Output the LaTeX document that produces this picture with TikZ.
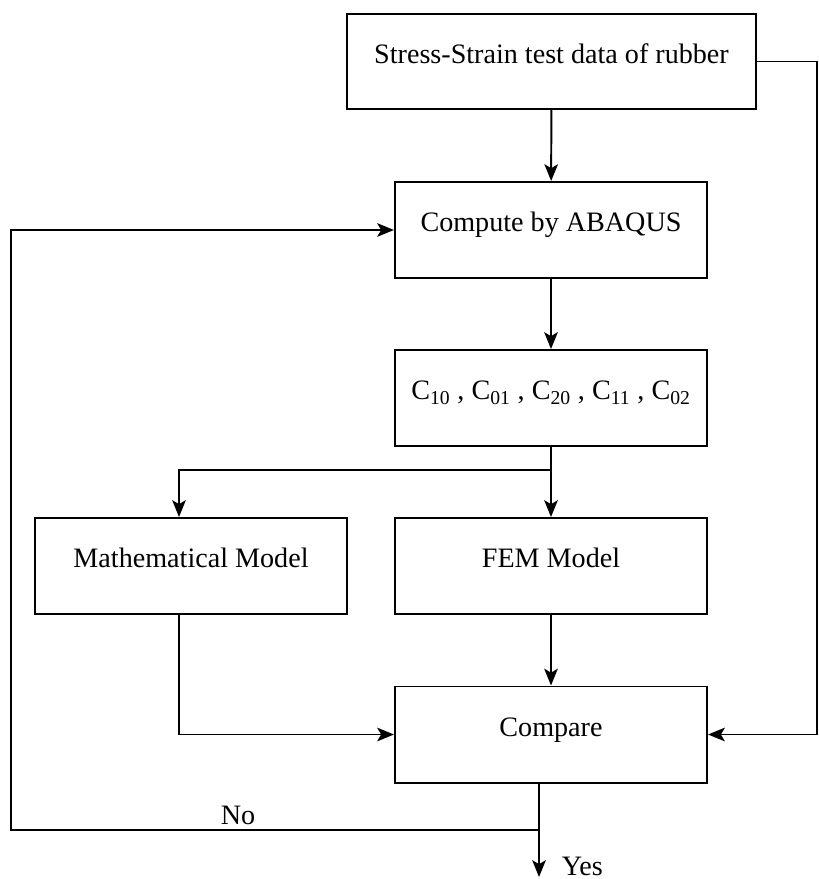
\documentclass[tikz,border=0pt]{standalone}
\usepackage{fontspec}
\setmainfont{Liberation Serif}
\usetikzlibrary{arrows.meta}

\begin{document}
\begin{tikzpicture}[
    x=0.025cm, y=-0.025cm,
    box/.style={rectangle, draw, line width=1.4pt, minimum width=7.8cm, minimum height=2.4cm,
        align=center, text height=0.75em, text depth=0.5em, font=\fontsize{20}{24}\selectfont},
    arrow/.style={-{Stealth[length=0.42cm, width=0.34cm, inset=0.1cm]}, line width=1.4pt},
    lbl/.style={font=\fontsize{20}{24}\selectfont}
]
\useasboundingbox (0,0) rectangle (818,879);

\node[box, minimum width=10.2cm, minimum height=2.375cm] (data) at (551.5,61.5) {Stress-Strain test data of rubber};
\node[box] (abaqus) at (551,230) {Compute by ABAQUS};
\node[box] (coef) at (551,398) {C\textsubscript{10} , C\textsubscript{01} , C\textsubscript{20} , C\textsubscript{11} , C\textsubscript{02}};
\node[box] (math) at (191,566) {Mathematical Model};
\node[box] (fem) at (551,566) {FEM Model};
\node[box] (compare) at (551,734.5) {Compare};

\coordinate (split) at (551,470);
\coordinate (rightrail) at (817,61.5);
\coordinate (nobend) at (539,830);
\coordinate (leftrail) at (11,830);
\coordinate (yes) at (539,877);

\draw[arrow] (data) -- (abaqus);
\draw[arrow] (abaqus) -- (coef);
\draw[arrow] (coef) -- (fem);
\draw[arrow] (split) -| ([xshift=-0.3cm]math.north);
\draw[arrow] (fem) -- (compare);
\draw[arrow] ([xshift=-0.3cm]math.south) |- (compare.west);
\draw[arrow] (data.east) -- (rightrail) |- (compare.east);
\draw[arrow] (compare.south -| yes) -- (yes);
\draw[arrow] (nobend) -- node[lbl, pos=0.57, above] {No} (leftrail) |- (abaqus.west);
\node[lbl, anchor=base west] (yeslbl) at (557,875) {Yes};
\end{tikzpicture}
\end{document}
